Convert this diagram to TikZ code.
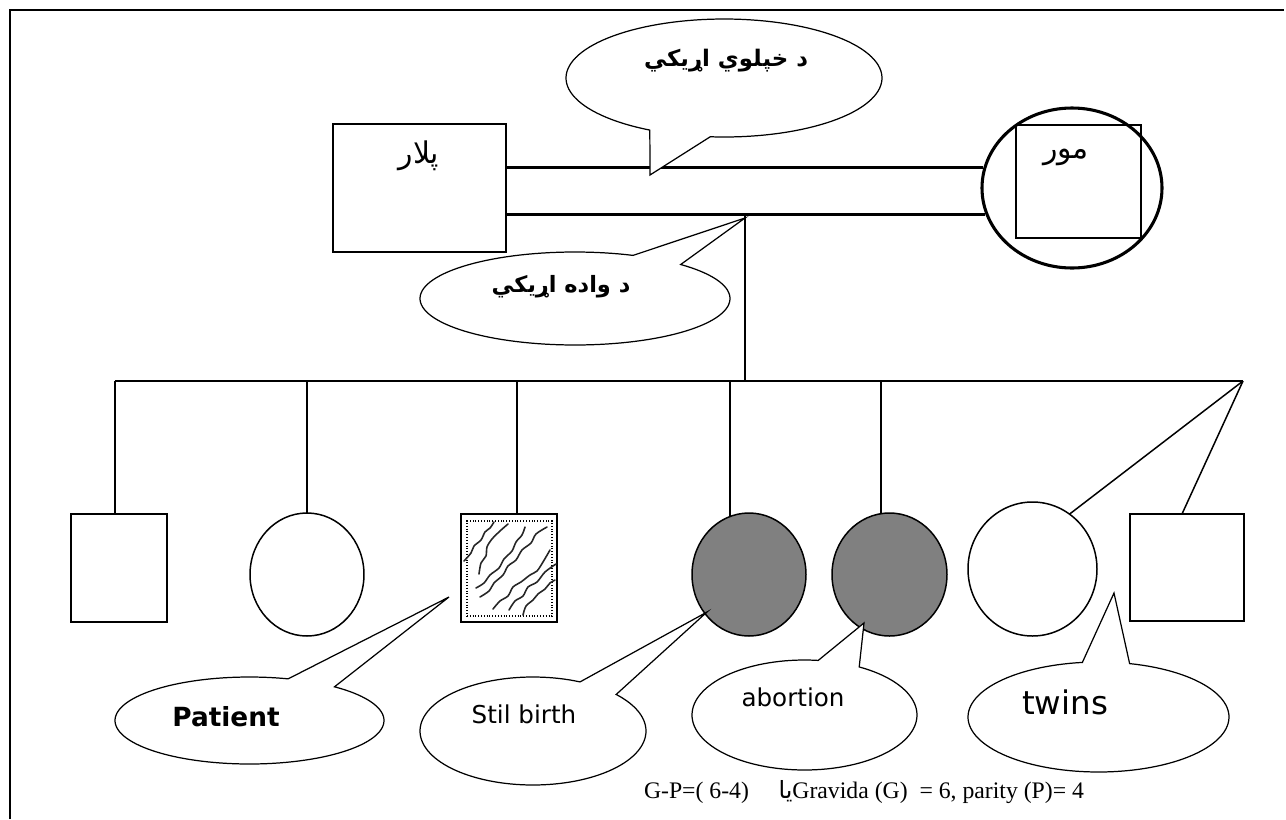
\documentclass[tikz,border=0pt]{standalone}
\usepackage{fontspec}
\setmainfont{Liberation Serif}
\newfontfamily\arabicfont[Script=Arabic]{DejaVu Sans}
\newfontfamily\dejavu{DejaVu Sans}
\TeXXeTstate=1
\usetikzlibrary{shapes.geometric}
\begin{document}
\begin{tikzpicture}[x=0.02cm,y=-0.02cm,
  heavy/.style={line width=1.25pt},
  thinln/.style={line width=0.85pt},
  kid/.style={draw, line width=0.85pt, inner sep=0pt, outer sep=0pt},
  bubble/.style={draw, line width=0.7pt, fill=white, line join=miter},
  txt/.style={inner sep=0pt, anchor=center},
  squig/.style={line width=0.9pt, draw=black!85, line cap=round, line join=round},
]
\useasboundingbox (0,0) rectangle (1286,819);
% frame
\draw[line width=1.7pt] (10,819) -- (10,10) -- (1284,10);

% parents
\node[draw, line width=1.45pt, minimum width=173*0.02cm, minimum height=128*0.02cm, inner sep=0pt] (father) at (419.5,188) {};
\node[txt] (fatherlbl) at (419,156) {\arabicfont\fontsize{17}{19}\selectfont\beginR پلار\endR};
\node[draw, ellipse, line width=1.75pt, minimum width=180*0.02cm, minimum height=160*0.02cm, inner sep=0pt] (mother) at (1072,188) {};
\node[draw, line width=0.75pt, minimum width=125*0.02cm, minimum height=113*0.02cm, inner sep=0pt] (motherbox) at (1078.5,181.5) {};
\node[txt] (motherlbl) at (1066,157) {\arabicfont\fontsize{17}{19}\selectfont\beginR مور\endR};

% marriage lines
\draw[heavy] (father.east |- mother.167) -- (mother.167);
\draw[heavy] (father.east |- mother.197) -- (mother.197);

% descent and sibship
\coordinate (mid) at (745,216);
\coordinate (sibL) at (115,381);
\coordinate (sibR) at (1243,381);
\draw[heavy] (mid) -- (mid |- sibL);
\draw[heavy] (sibL) -- (sibR);

% children
\node[kid, minimum width=96*0.02cm, minimum height=108*0.02cm] (c1) at (119,568) {};
\node[kid, ellipse, minimum width=114*0.02cm, minimum height=123*0.02cm] (c2) at (307,574.5) {};
\node[kid, minimum width=96*0.02cm, minimum height=108*0.02cm] (c3) at (509,568) {};
\node[draw, line width=0.8pt, dash pattern=on 0.5pt off 1.1pt, minimum width=85*0.02cm, minimum height=95*0.02cm, inner sep=0pt] (c3in) at (509.5,568.5) {};
\node[kid, ellipse, fill=black!50, minimum width=114*0.02cm, minimum height=123*0.02cm] (c4) at (749,574.5) {};
\node[kid, ellipse, fill=black!50, minimum width=115*0.02cm, minimum height=123*0.02cm] (c5) at (889.5,574.5) {};
\node[kid, ellipse, minimum width=129*0.02cm, minimum height=134*0.02cm] (c6) at (1032.5,569) {};
\node[kid, minimum width=114*0.02cm, minimum height=107*0.02cm] (c7) at (1187,567.5) {};

\draw[thinln] (sibL) -- (sibL |- c1.north);
\draw[thinln] (c2.north |- sibL) -- (c2.north);
\draw[thinln] (517,381) -- (517,514);
\draw[thinln] (c4.108 |- sibL) -- (c4.108);
\draw[thinln] (c5.98 |- sibL) -- (c5.98);
\draw[thinln] (sibR) -- (c6.56);
\draw[thinln] (sibR) -- ([xshift=-0.1cm]c7.north);

% patient hatching
\draw[squig] plot[smooth] coordinates {(464,561) (471,553) (474,546) (481,540) (485,532) (490,528) (494,522)};
\draw[squig] plot[smooth] coordinates {(479,574) (481,563) (486,556) (487,547) (492,539) (500,531) (508,524)};
\draw[squig] plot[smooth] coordinates {(476,588) (484,583) (490,575) (499,568) (504,559) (512,551) (516,542) (522,535) (525,527)};
\draw[squig] plot[smooth] coordinates {(480,597) (489,591) (494,583) (503,575) (508,566) (516,560) (522,550) (531,543) (536,534) (547,527)};
\draw[squig] plot[smooth] coordinates {(493,609) (500,601) (508,596) (513,587) (521,582) (530,575) (537,571) (543,562) (550,550)};
\draw[squig] plot[smooth] coordinates {(509,610) (515,601) (523,596) (528,587) (537,582) (545,572) (556,564)};
\draw[squig] plot[smooth] coordinates {(523,615) (526,606) (533,600) (538,594) (545,589) (550,583) (555,580)};

% callouts
\draw[bubble] (650,175) -- plot[domain=118:455, samples=120] ({724+158*cos(\x)},{78+59*sin(\x)}) -- cycle;
\draw[bubble] (745,218) -- plot[domain=-47:292, samples=120] ({575+155*cos(\x)},{298.5+46.5*sin(\x)}) -- cycle;
\draw[bubble] (449,597) -- plot[domain=-50.8:286.7, samples=120] ({249.5+134.5*cos(\x)},{720.5+43.5*sin(\x)}) -- cycle;
\draw[bubble] (707,612) -- plot[domain=-42.6:294.6, samples=120] ({533+113*cos(\x)},{731+54*sin(\x)}) -- cycle;
\draw[bubble] (864,623) -- plot[domain=-60.9:277, samples=120] ({804.5+112.5*cos(\x)},{715+55*sin(\x)}) -- cycle;
\draw[bubble] (1114,593) -- plot[domain=-76.2:262.9, samples=120] ({1098.5+130.5*cos(\x)},{717+55*sin(\x)}) -- cycle;

% callout texts
\node[txt] (t1) at (726,61) {\arabicfont\bfseries\fontsize{13}{15}\selectfont\beginR د خپلوي اړيکي\endR};
\node[txt] (t2) at (561,287) {\arabicfont\bfseries\fontsize{12.8}{15}\selectfont\beginR د واده اړيکي\endR};
\node[txt] (t3) at (226,717) {\dejavu\bfseries\fontsize{15}{18}\selectfont Patient};
\node[txt] (t4) at (524,714) {\dejavu\fontsize{14}{16}\selectfont Stil birth};
\node[txt] (t5) at (793,697) {\dejavu\fontsize{14}{16}\selectfont abortion};
\node[txt] (t6) at (1065,702) {\dejavu\fontsize{18.5}{21}\selectfont twins};

% formula
\node[txt] (gp) at (864,792) {\fontsize{13.5}{15}\selectfont G-P=( 6-4)\quad\ {\arabicfont\beginR یا\endR}Gravida (G)\ \ = 6, parity (P)= 4};
\end{tikzpicture}
\end{document}
